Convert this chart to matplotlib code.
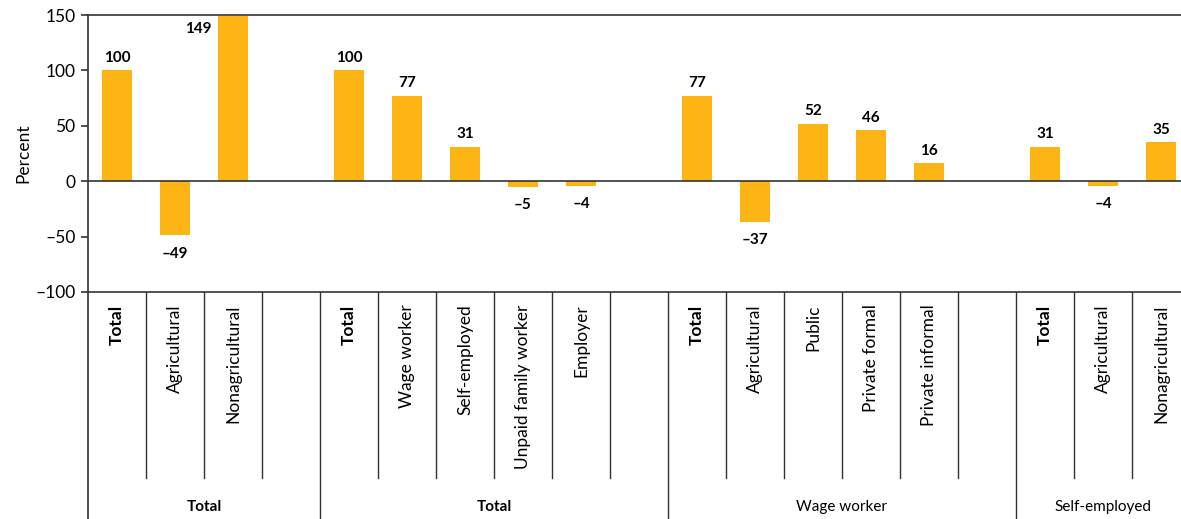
import matplotlib
matplotlib.use("Agg")
import matplotlib.pyplot as plt

plt.rcParams['font.family'] = ['Lato', 'DejaVu Sans']

# data
categories = ["Total", "Agricultural", "Nonagricultural", "",
              "Total", "Wage worker", "Self-employed", "Unpaid family worker", "Employer", "",
              "Total", "Agricultural", "Public", "Private formal", "Private informal", "",
              "Total", "Agricultural", "Nonagricultural"]
values = [100, -49, 149, None,
          100, 77, 31, -5, -4, None,
          77, -37, 52, 46, 16, None,
          31, -4, 35]
groups = ["Total", "Total", "Wage worker", "Self-employed"]
group_sizes = [4, 6, 6, 3]
group_bold = [True, True, False, False]

bar_color = '#FDB515'
line_color = '#333333'

W, H = 1181, 519
fig = plt.figure(figsize=(W / 100, H / 100), dpi=100)
left = 88 / W
width = (1190 - 88) / W
ax = fig.add_axes([left, (H - 292) / H, width, (292 - 15) / H])

n = len(categories)
xs = list(range(n))
for x, v in zip(xs, values):
    if v is None:
        continue
    ax.bar(x, v, width=0.52, color=bar_color, zorder=2)
    lab = f"{v}" if v >= 0 else f"\u2013{abs(v)}"
    if v >= 140:
        # no room above the axis top, put it to the left of the bar
        ax.annotate(lab, (x - 0.3, v), xytext=(-3, -4), textcoords='offset points',
                    ha='right', va='top', fontsize=11, fontweight='bold')
    elif v >= 0:
        ax.annotate(lab, (x, v), xytext=(0, 4), textcoords='offset points',
                    ha='center', va='bottom', fontsize=11, fontweight='bold')
    else:
        ax.annotate(lab, (x, v), xytext=(0, -8), textcoords='offset points',
                    ha='center', va='top', fontsize=11, fontweight='bold')

ax.axhline(0, color=line_color, linewidth=1.2, zorder=3)
ax.set_xlim(-0.5, n - 0.5)
ax.set_ylim(-100, 150)
ax.set_yticks([-100, -50, 0, 50, 100, 150])
ax.set_yticklabels(["\u2013100", "\u201350", "0", "50", "100", "150"])
ax.tick_params(axis='y', labelsize=12.5, length=5, width=1.2, color=line_color, pad=4)
ax.set_xticks([])
ax.set_ylabel("Percent", fontsize=12.5, labelpad=3)
for side in ['left', 'top', 'bottom']:
    ax.spines[side].set_color(line_color)
    ax.spines[side].set_linewidth(1.2)
ax.spines['right'].set_visible(False)

# category label area
lax = fig.add_axes([left, 0, width, (H - 292) / H])
lax.set_xlim(-0.5, n - 0.5)
lax.set_ylim(0, 1)
lax.axis('off')
lax.plot([-0.5, -0.5], [0, 1], color=line_color, linewidth=1.2, clip_on=False)

sub_bottom = (H - 478) / (H - 292)
start = 0
group_starts = []
for s in group_sizes:
    group_starts.append(start)
    start += s

for i in range(1, n):
    b = i - 0.5
    if i in group_starts:
        lax.plot([b, b], [0, 1], color=line_color, linewidth=1.0)
    else:
        lax.plot([b, b], [sub_bottom, 1], color=line_color, linewidth=1.0)

for x, c in zip(xs, categories):
    if not c:
        continue
    lax.text(x, 0.945, c, rotation=90, ha='center', va='top', fontsize=12.5,
             fontweight='bold' if c == "Total" else 'normal')

gy = (H - 507) / (H - 292)
for g, s0, sz, bold in zip(groups, group_starts, group_sizes, group_bold):
    mid = s0 - 0.5 + sz / 2
    lax.text(mid, gy, g, ha='center', va='center', fontsize=11,
             fontweight='bold' if bold else 'normal')

fig.savefig("out.png", dpi=100)
